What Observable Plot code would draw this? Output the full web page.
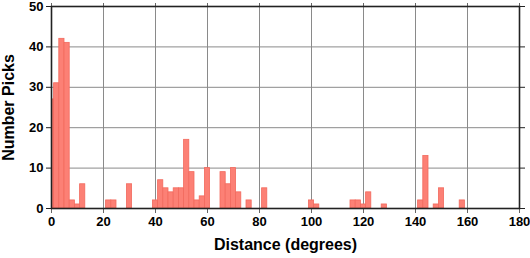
<!DOCTYPE html>
<html>
<head>
<meta charset="utf-8">
<script src="https://cdn.jsdelivr.net/npm/d3@7"></script>
<script src="https://cdn.jsdelivr.net/npm/@observablehq/plot@0.6"></script>
<style>
  html, body { margin: 0; padding: 0; background: #fff; }
  #chart svg { display: block; }
</style>
</head>
<body>
<div id="chart"></div>
<script>
// Bin centers (degrees, 2-degree bins) and pick counts
const binCenters = [0, 2, 4, 6, 8, 10, 12, 22, 24, 30,
  40, 42, 44, 46, 48, 50, 52, 54, 56, 58, 60,
  66, 68, 70, 72, 76, 82, 100, 102,
  116, 118, 120, 122, 128, 142, 144, 148, 150, 158];
const pickCounts = [27, 31, 42, 41, 2, 1, 6, 2, 2, 6,
  2, 7, 5, 4, 5, 5, 17, 9, 2, 3, 10,
  9, 6, 10, 4, 2, 5, 2, 1,
  2, 2, 1, 4, 1, 2, 13, 1, 5, 2];
const binWidth = 2;
const xTicks = [0, 20, 40, 60, 80, 100, 120, 140, 160, 180];
const yTicks = [0, 10, 20, 30, 40, 50];
const xLabel = "Distance (degrees)";
const yLabel = "Number Picks";

const bins = binCenters.map((c, i) => ({c, n: pickCounts[i]}));
const font = "'Liberation Sans', Arial, Helvetica, sans-serif";

const chart = Plot.plot({
  width: 530,
  height: 258,
  marginLeft: 51,
  marginRight: 11,
  marginTop: 6,
  marginBottom: 50,
  style: {fontFamily: font, fontWeight: "bold", fontSize: "13px", color: "#000", background: "#fff"},
  x: {domain: [0, 180]},
  y: {domain: [0, 50]},
  marks: [
    Plot.gridX(xTicks, {stroke: "#8a8a8a", strokeOpacity: 1, strokeWidth: 1}),
    Plot.gridY(yTicks, {stroke: "#8a8a8a", strokeOpacity: 1, strokeWidth: 1}),
    Plot.rectY(bins, {
      x1: d => d.c - binWidth / 2,
      x2: d => d.c + binWidth / 2,
      y1: 0,
      y2: "n",
      fill: "#fc8075",
      stroke: "#f26a5e",
      strokeWidth: 0.8,
      clip: true
    }),
    Plot.axisX(xTicks, {anchor: "bottom", tickSize: 5, tickPadding: 3, stroke: "#666", fontSize: 13, fontWeight: "bold", fill: "#000", label: null}),
    Plot.axisX(xTicks, {anchor: "top", tickSize: 4, stroke: "#666", text: null, label: null}),
    Plot.axisY(yTicks, {anchor: "left", tickSize: 5, tickPadding: 3, stroke: "#222", fontSize: 13, fontWeight: "bold", fill: "#000", label: null}),
    Plot.axisY(yTicks, {anchor: "right", tickSize: 5, stroke: "#222", text: null, label: null}),
    Plot.frame({stroke: "#222", strokeWidth: 1.6}),
    Plot.text([xLabel], {frameAnchor: "bottom", dy: 41, fontSize: 16, fontWeight: "bold", fill: "#000"}),
    Plot.text([yLabel], {frameAnchor: "left", textAnchor: "middle", dx: -43, rotate: -90, fontSize: 16, fontWeight: "bold", fill: "#000"})
  ]
});
document.getElementById("chart").appendChild(chart);
</script>
</body>
</html>
